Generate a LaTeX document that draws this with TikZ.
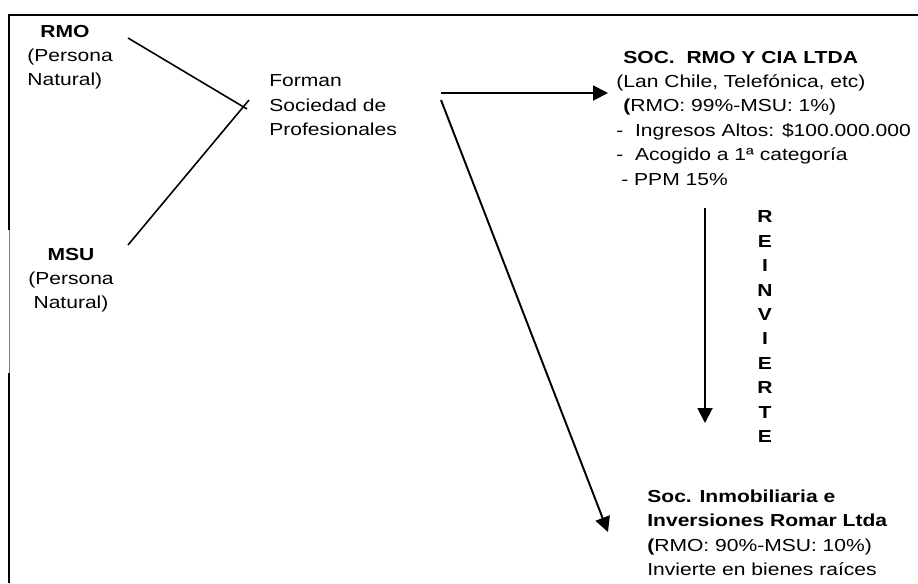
\documentclass[tikz,border=0pt]{standalone}
\usepackage{fontspec}
\setmainfont{Liberation Sans}[FakeStretch=1.21]
\usetikzlibrary{positioning,arrows.meta,calc}

\tikzset{
  txt/.style={inner sep=0pt,align=left,font=\fontsize{9.9}{13.9}\selectfont},
  link/.style={line width=0.9pt},
  flow/.style={line width=1.1pt,->},
}

\begin{document}
\begin{tikzpicture}[x=0.02cm,y=-0.02cm,>={Triangle[length=0.3cm,width=0.3cm]}]
    \useasboundingbox (0,0) rectangle (918,583);

    % Frame
    \draw[line width=1.1pt] (918,15) -- (9,15) -- (9,230);
    \draw[line width=0.5pt,gray] (9,230) -- (9,373);
    \draw[line width=1.1pt] (9,373) -- (9,583);

    % Partners
    \node[txt,anchor=north west] (rmo) at (27,24.5) {\hspace*{0.26cm}\textbf{RMO}\\(Persona\\Natural)};
    \node[txt,anchor=north,align=center] (msu) at (71,247.5) {\textbf{MSU}\\(Persona\\Natural)};

    % Society of professionals
    \node[txt,anchor=north west] (forman) at (269,74.5) {Forman\\Sociedad de\\Profesionales};

    % Companies
    \node[txt,anchor=north west] (soc) at (616,50.5) {\hspace*{0.14cm}\textbf{SOC.\ \ RMO Y CIA LTDA}\\(Lan Chile, Telefónica, etc)\\\hspace*{0.14cm}\textbf{(}RMO: 99\%-MSU: 1\%)\\-\ \ Ingresos Altos: \$100.000.000\\-\ \ Acogido a 1ª categoría\\\hspace*{0.1cm}- PPM 15\%};
    \node[txt,anchor=north west] (inmob) at (647,489.5) {\textbf{Soc. Inmobiliaria e}\\\textbf{Inversiones Romar Ltda}\\\textbf{(}RMO: 90\%-MSU: 10\%)\\Invierte en bienes raíces};

    % Vertical label
    \node[txt,anchor=north,align=center,font=\fontsize{9.9}{13.9}\selectfont\bfseries] (reinv) at (765,210.5) {R\\E\\I\\N\\V\\I\\E\\R\\T\\E};

    % Joining lines
    \coordinate (rmoout) at (128,38);
    \coordinate (rmojoin) at (247,109);
    \coordinate (msuout) at (128,245);
    \coordinate (msujoin) at (249,100);
    \draw[link] (rmoout) -- (rmojoin);
    \draw[link] (msuout) -- (msujoin);

    % Arrows
    \coordinate (fork) at (441,93);
    \coordinate (forkb) at (441,100);
    \coordinate (socin) at (608,93);
    \coordinate (inmobin) at (608,532);
    \coordinate (reinvtop) at (705,208);
    \coordinate (reinvend) at (705,423);
    \draw[flow] (fork) -- (socin);
    \draw[flow] (forkb) -- (inmobin);
    \draw[flow] (reinvtop) -- (reinvend);
\end{tikzpicture}
\end{document}
